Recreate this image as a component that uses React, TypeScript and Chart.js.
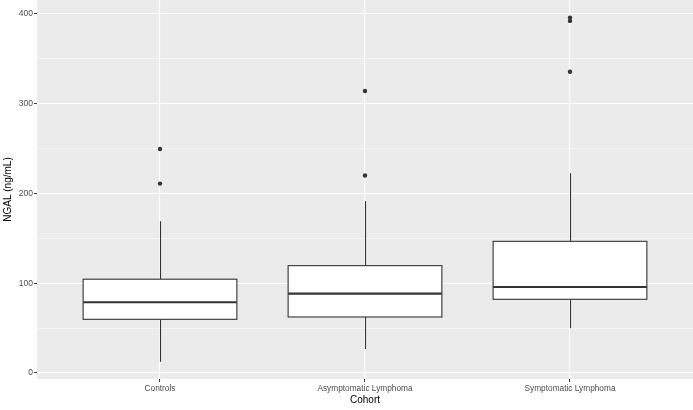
import React, { useEffect, useRef } from "react";
import { Chart, registerables } from "chart.js";

Chart.register(...registerables);

const categories = ["Controls", "Asymptomatic Lymphoma", "Symptomatic Lymphoma"];
const whiskerLow = [12.6, 26.7, 49.8];
const q1 = [59.8, 62.4, 82.1];
const median = [78.8, 88.4, 95.8];
const q3 = [104.5, 119.6, 146.7];
const whiskerHigh = [169, 191.3, 222.5];
const outliers = [
  [211, 249.6],
  [220, 314.2],
  [335.7, 392.3, 396],
];
const yTicks = [0, 50, 100, 150, 200, 250, 300, 350, 400];

const BOX_WIDTH = 0.75;
const INK = "#333333";
const FONT = "'Liberation Sans', Arial, sans-serif";

const panelBg = {
  id: "panelBg",
  beforeDraw(chart: any) {
    const { ctx, chartArea } = chart;
    ctx.save();
    ctx.fillStyle = "#EBEBEB";
    ctx.fillRect(chartArea.left, chartArea.top, chartArea.right - chartArea.left, chartArea.bottom - chartArea.top);
    ctx.restore();
  },
};

const boxPlugin = {
  id: "boxes",
  afterDatasetsDraw(chart: any) {
    const { ctx } = chart;
    const xs = chart.scales.x;
    const ys = chart.scales.y;
    ctx.save();
    categories.forEach((_, i) => {
      const cx = Math.round(xs.getPixelForValue(i)) + 0.5;
      const x0 = xs.getPixelForValue(i - BOX_WIDTH / 2);
      const x1 = xs.getPixelForValue(i + BOX_WIDTH / 2);
      const yLo = ys.getPixelForValue(whiskerLow[i]);
      const yQ1 = ys.getPixelForValue(q1[i]);
      const yMed = ys.getPixelForValue(median[i]);
      const yQ3 = ys.getPixelForValue(q3[i]);
      const yHi = ys.getPixelForValue(whiskerHigh[i]);
      ctx.strokeStyle = INK;
      ctx.lineWidth = 1.1;
      ctx.beginPath();
      ctx.moveTo(cx, yHi);
      ctx.lineTo(cx, yQ3);
      ctx.moveTo(cx, yQ1);
      ctx.lineTo(cx, yLo);
      ctx.stroke();
      ctx.fillStyle = "#FFFFFF";
      ctx.fillRect(x0, yQ3, x1 - x0, yQ1 - yQ3);
      ctx.lineWidth = 1.1;
      ctx.strokeRect(x0, yQ3, x1 - x0, yQ1 - yQ3);
      ctx.lineWidth = 2.2;
      ctx.beginPath();
      ctx.moveTo(x0, yMed);
      ctx.lineTo(x1, yMed);
      ctx.stroke();
    });
    ctx.restore();
  },
};

const zeroPad = (s: any) => {
  s.paddingTop = 0;
  s.paddingBottom = 0;
  s.paddingLeft = 0;
  s.paddingRight = 0;
};

export default function App() {
  const ref = useRef<HTMLCanvasElement>(null);
  useEffect(() => {
    document.body.style.margin = "0";
    const points: { x: number; y: number }[] = [];
    outliers.forEach((arr, i) => arr.forEach((v) => points.push({ x: i, y: v })));
    const chart = new Chart(ref.current!, {
      type: "scatter",
      data: {
        datasets: [
          {
            data: points,
            pointRadius: 2.2,
            pointBackgroundColor: INK,
            pointBorderWidth: 0,
            pointHoverRadius: 2.2,
          },
        ],
      },
      options: {
        animation: false,
        responsive: false,
        devicePixelRatio: 1,
        layout: { padding: 0, autoPadding: false },
        plugins: { legend: { display: false }, tooltip: { enabled: false } },
        scales: {
          x: {
            type: "linear",
            min: -0.6,
            max: 2.6,
            afterBuildTicks: (s: any) => {
              s.ticks = categories.map((_, i) => ({ value: i }));
            },
            afterFit: (s: any) => {
              s.height = 31;
              zeroPad(s);
            },
            ticks: {
              autoSkip: false,
              maxRotation: 0,
              padding: 2,
              color: "#4D4D4D",
              font: { family: FONT, size: 8.3 },
              callback: (v: any) => categories[v as number] ?? "",
            },
            grid: { color: "#FFFFFF", lineWidth: 1.1, tickLength: 3, tickColor: INK, tickWidth: 1 },
            border: { display: false },
            title: {
              display: true,
              text: "Cohort",
              color: "#000000",
              font: { family: FONT, size: 10 },
              padding: { top: 0, bottom: 4 },
            },
          },
          y: {
            type: "linear",
            min: -6.7,
            max: 415.6,
            afterBuildTicks: (s: any) => {
              s.ticks = yTicks.map((v) => ({ value: v }));
            },
            afterFit: (s: any) => {
              s.width = 37;
              zeroPad(s);
            },
            ticks: {
              autoSkip: false,
              padding: 1,
              color: "#4D4D4D",
              font: { family: FONT, size: 8.5 },
              callback: (v: any) => ((v as number) % 100 === 0 ? String(v) : ""),
            },
            grid: {
              color: "#FFFFFF",
              lineWidth: (c: any) => (c.tick && c.tick.value % 100 === 0 ? 1.1 : 0.55),
              tickLength: 3,
              tickColor: (c: any) => (c.tick && c.tick.value % 100 === 0 ? INK : "rgba(0,0,0,0)"),
              tickWidth: 1,
            },
            border: { display: false },
            title: {
              display: true,
              text: "NGAL (ng/mL)",
              color: "#000000",
              font: { family: FONT, size: 10 },
              padding: { top: 2, bottom: 0 },
            },
          },
        },
      },
      plugins: [panelBg, boxPlugin],
    });
    return () => chart.destroy();
  }, []);
  return <canvas ref={ref} width={693} height={410} style={{ display: "block" }} />;
}
